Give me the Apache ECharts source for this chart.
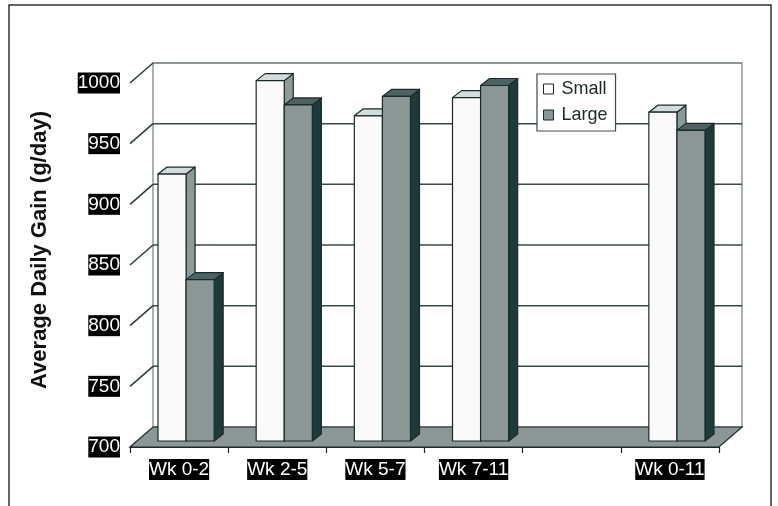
<!DOCTYPE html>
<html>
<head>
<meta charset="utf-8">
<script src="https://cdn.jsdelivr.net/npm/echarts@6/dist/echarts.min.js"></script>
<style>
html,body{margin:0;padding:0;background:#fff;}
#chart{width:778px;height:506px;}
</style>
</head>
<body>
<div id="chart"></div>
<script>
// ---- data ----
var categories = ['Wk 0-2', 'Wk 2-5', 'Wk 5-7', 'Wk 7-11', '', 'Wk 0-11'];
var smallValues = [920, 997, 968, 983, null, 971];
var largeValues = [833, 977, 984, 993, null, 956];
var yTicks = [700, 750, 800, 850, 900, 950, 1000];
var seriesNames = ['Small', 'Large'];
var yTitle = 'Average Daily Gain (g/day)';

// ---- styles ----
var FONT = 'Liberation Sans, Arial, sans-serif';
var OUTLINE = '#1a2a2a';
var WALL_DX = 23, WALL_DY = 20;      // depth of the back wall
var BAR_SX = 7, BAR_SY = 6;          // bar front-face depth offset
var BAR_DX = 9, BAR_DY = 7;          // bar depth
var faceColors = [
  { front: '#fafafa', top: '#d3dbdb', side: '#8c9a9a' },
  { front: '#8b9797', top: '#4d6262', side: '#1f3a3a' }
];
var yMin = yTicks[0], yMax = yTicks[yTicks.length - 1];

function pairs(arr) {
  var out = [];
  arr.forEach(function (v, i) { if (v != null) out.push([i, v]); });
  return out;
}

function wallRender(params, api) {
  var cs = params.coordSys;
  var yb = api.coord([0, yMin])[1];
  var yt = api.coord([0, yMax])[1];
  var xl = cs.x, xr = cs.x + cs.width;
  return {
    type: 'group',
    children: [
      { type: 'rect', shape: { x: xl + WALL_DX, y: yt - WALL_DY, width: xr - xl, height: yb - yt },
        style: { fill: '#ffffff', stroke: '#8a9a9a', lineWidth: 1.5 } },
      { type: 'polygon', shape: { points: [[xl, yb], [xr, yb], [xr + WALL_DX, yb - WALL_DY], [xl + WALL_DX, yb - WALL_DY]] },
        style: { fill: '#8b9797', stroke: OUTLINE, lineWidth: 1.2 } }
    ]
  };
}

function gridRender(params, api) {
  var cs = params.coordSys;
  var v = api.value(1);
  if (v === yMin) return null;
  var y = api.coord([0, v])[1];
  var xl = cs.x, xr = cs.x + cs.width;
  return {
    type: 'group',
    children: [
      { type: 'line', shape: { x1: xl + WALL_DX, y1: y - WALL_DY, x2: xr + WALL_DX, y2: y - WALL_DY },
        style: { stroke: v === yMax ? '#7d8d8d' : '#3a4a4a', lineWidth: 1.5 } },
      { type: 'line', shape: { x1: xl, y1: y, x2: xl + WALL_DX, y2: y - WALL_DY },
        style: { stroke: '#2a3a3a', lineWidth: 1.5 } }
    ]
  };
}

function barRender(which) {
  return function (params, api) {
    var idx = api.value(0), v = api.value(1);
    var c = api.coord([idx, v]);
    var b = api.coord([idx, yMin]);
    var bw = api.size([1, 0])[0] * 0.286;
    var x0 = (which === 0 ? c[0] - bw : c[0]) + BAR_SX;
    var x1 = x0 + bw;
    var yT = c[1] - BAR_SY, yB = b[1] - BAR_SY;
    var col = faceColors[which];
    var st = { stroke: OUTLINE, lineWidth: 1.2, lineJoin: 'round' };
    return {
      type: 'group',
      children: [
        { type: 'polygon', shape: { points: [[x1, yT], [x1 + BAR_DX, yT - BAR_DY], [x1 + BAR_DX, yB - BAR_DY], [x1, yB]] },
          style: Object.assign({ fill: col.side }, st) },
        { type: 'polygon', shape: { points: [[x0, yT], [x1, yT], [x1 + BAR_DX, yT - BAR_DY], [x0 + BAR_DX, yT - BAR_DY]] },
          style: Object.assign({ fill: col.top }, st) },
        { type: 'rect', shape: { x: x0, y: yT, width: bw, height: yB - yT },
          style: Object.assign({ fill: col.front }, st) }
      ]
    };
  };
}

var chart = echarts.init(document.getElementById('chart'), null, { renderer: 'canvas' });
chart.setOption({
  animation: false,
  backgroundColor: '#ffffff',
  grid: { left: 130, right: 59, top: 83, bottom: 59, containLabel: false },
  legend: {
    data: seriesNames,
    orient: 'vertical',
    left: 537, top: 74,
    backgroundColor: '#ffffff',
    borderColor: '#3a4a4a', borderWidth: 1.2, borderRadius: 0,
    padding: [6, 8, 7, 6],
    itemWidth: 10, itemHeight: 10, itemGap: 8,
    icon: 'rect',
    itemStyle: { borderColor: OUTLINE, borderWidth: 1 },
    textStyle: { fontFamily: FONT, fontSize: 18, color: '#1a2a2a', padding: [0, 0, 0, 3] },
    selectedMode: false
  },
  xAxis: {
    type: 'category',
    data: categories,
    axisLine: { show: true, lineStyle: { color: OUTLINE, width: 1.2 } },
    axisTick: { show: true, length: 6, lineStyle: { color: OUTLINE, width: 1.2 } },
    axisLabel: {
      margin: 12, fontFamily: FONT, fontSize: 19, color: '#ffffff',
      backgroundColor: '#000000', padding: [1, 0, 1, 0], interval: 0
    },
    splitLine: { show: false }
  },
  yAxis: {
    type: 'value',
    min: yMin, max: yMax, interval: 50,
    axisLine: { show: false },
    axisTick: { show: false },
    splitLine: { show: false },
    axisLabel: {
      margin: 10, fontFamily: FONT, fontSize: 19, color: '#ffffff',
      backgroundColor: '#000000', padding: [1, 0, 1, 0],
      formatter: function (v) { return String(v); }
    }
  },
  graphic: [
    { type: 'rect', shape: { x: 9, y: 5, width: 762, height: 520 },
      style: { fill: 'none', stroke: '#333333', lineWidth: 1.5 }, silent: true, z: 100 },
    { type: 'text', x: 40, y: 250, rotation: Math.PI / 2,
      style: { text: yTitle, fontFamily: FONT, fontSize: 22, fontWeight: 'bold', fill: '#111111',
               align: 'center', verticalAlign: 'middle' }, silent: true }
  ],
  series: [
    { type: 'custom', name: '_wall', data: [[0, yMin]], renderItem: wallRender, clip: false, silent: true, z: 1 },
    { type: 'custom', name: '_grid', data: yTicks.map(function (t) { return [0, t]; }), renderItem: gridRender, clip: false, silent: true, z: 1 },
    { type: 'custom', name: seriesNames[0], data: pairs(smallValues), renderItem: barRender(0), clip: false, z: 3,
      itemStyle: { color: faceColors[0].front, borderColor: OUTLINE } },
    { type: 'custom', name: seriesNames[1], data: pairs(largeValues), renderItem: barRender(1), clip: false, z: 4,
      itemStyle: { color: faceColors[1].front, borderColor: OUTLINE } }
  ]
});
</script>
</body>
</html>
